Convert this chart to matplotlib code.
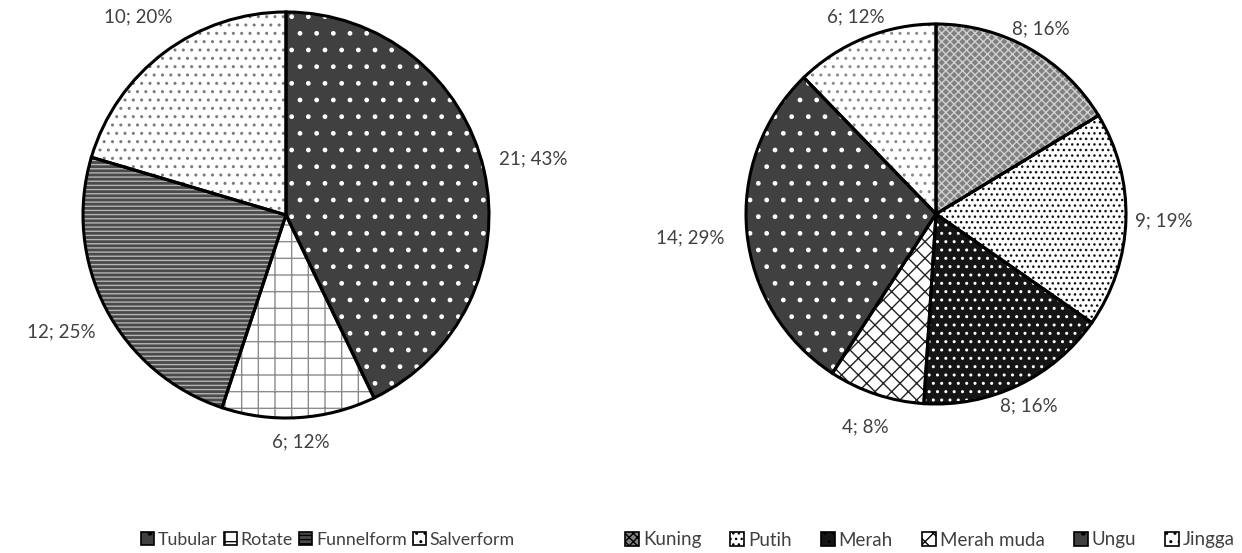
import matplotlib
matplotlib.use('Agg')
import matplotlib.pyplot as plt
from matplotlib.patches import Patch
import numpy as np

plt.rcParams['font.family'] = ['Lato', 'DejaVu Sans']
plt.rcParams['hatch.linewidth'] = 1.0

# Left pie: flower shape
shape_names = ['Tubular', 'Rotate', 'Funnelform', 'Salverform']
shape_counts = [21, 6, 12, 10]
shape_pcts = [43, 12, 25, 20]

# Right pie: flower colour
colour_names = ['Kuning', 'Putih', 'Merah', 'Merah muda', 'Ungu', 'Jingga']
colour_counts = [8, 9, 8, 4, 14, 6]
colour_pcts = [16, 19, 16, 8, 29, 12]

# (facecolor, hatch, hatch colour) per slice
shape_styles = [('#404040', '.', '#ffffff'),
                ('#ffffff', '+', '#8c8c8c'),
                ('#4a4a4a', '----', '#b4b4b4'),
                ('#ffffff', '..', '#7a7a7a')]
colour_styles = [('#808080', 'xxxx', '#d0d0d0'),
                 ('#ffffff', '...', '#111111'),
                 ('#151515', '..', '#ffffff'),
                 ('#ffffff', 'xx', '#222222'),
                 ('#404040', '.', '#ffffff'),
                 ('#ffffff', '..', '#8a8a8a')]

shape_label_dist = [1.25, 1.12, 1.25, 1.22]
colour_label_dist = [1.12, 1.2, 1.12, 1.18, 1.3, 1.12]

txt_col = '#404040'
W, H = 1242, 553
fig = plt.figure(figsize=(W / 100, H / 100), dpi=100)


def draw_pie(ax, counts, pcts, styles, dists):
    wedges, _ = ax.pie(counts, startangle=90, counterclock=False, radius=1,
                       wedgeprops=dict(linewidth=0))
    for w, (fc, hatch, hc) in zip(wedges, styles):
        w.set_facecolor(fc)
        w.set_edgecolor(hc)
        w.set_hatch(hatch)
    ax.pie(counts, startangle=90, counterclock=False, radius=1,
           wedgeprops=dict(fill=False, edgecolor='black', linewidth=2.2))
    for w, c, p, d in zip(wedges, counts, pcts, dists):
        ang = np.deg2rad((w.theta1 + w.theta2) / 2)
        ax.text(d * np.cos(ang), d * np.sin(ang), '{0}; {1}%'.format(c, p),
                ha='center', va='center', fontsize=13.5, color=txt_col)
    ax.set_xlim(-1, 1)
    ax.set_ylim(-1, 1)
    ax.axis('off')


ax1 = fig.add_axes([83 / W, (H - 418) / H, 406 / W, 406 / H])
draw_pie(ax1, shape_counts, shape_pcts, shape_styles, shape_label_dist)

ax2 = fig.add_axes([746 / W, (H - 404) / H, 380 / W, 380 / H])
draw_pie(ax2, colour_counts, colour_pcts, colour_styles, colour_label_dist)


def legend_handles(styles):
    return [Patch(facecolor=fc, edgecolor='black', hatch=h, linewidth=1.2)
            for fc, h, hc in styles]


leg_kw = dict(ncol=6, frameon=False, handlelength=0.75,
              handleheight=0.75, handletextpad=0.2, labelcolor=txt_col)
fig.legend(legend_handles(shape_styles), shape_names, loc='center',
           bbox_to_anchor=(328 / W, 1 - 540 / H), fontsize=12.8,
           columnspacing=0.35, **leg_kw)
fig.legend(legend_handles(colour_styles), colour_names, loc='center',
           bbox_to_anchor=(930 / W, 1 - 540 / H), fontsize=13.5,
           columnspacing=1.55, **leg_kw)

fig.savefig('out.png', dpi=100)
